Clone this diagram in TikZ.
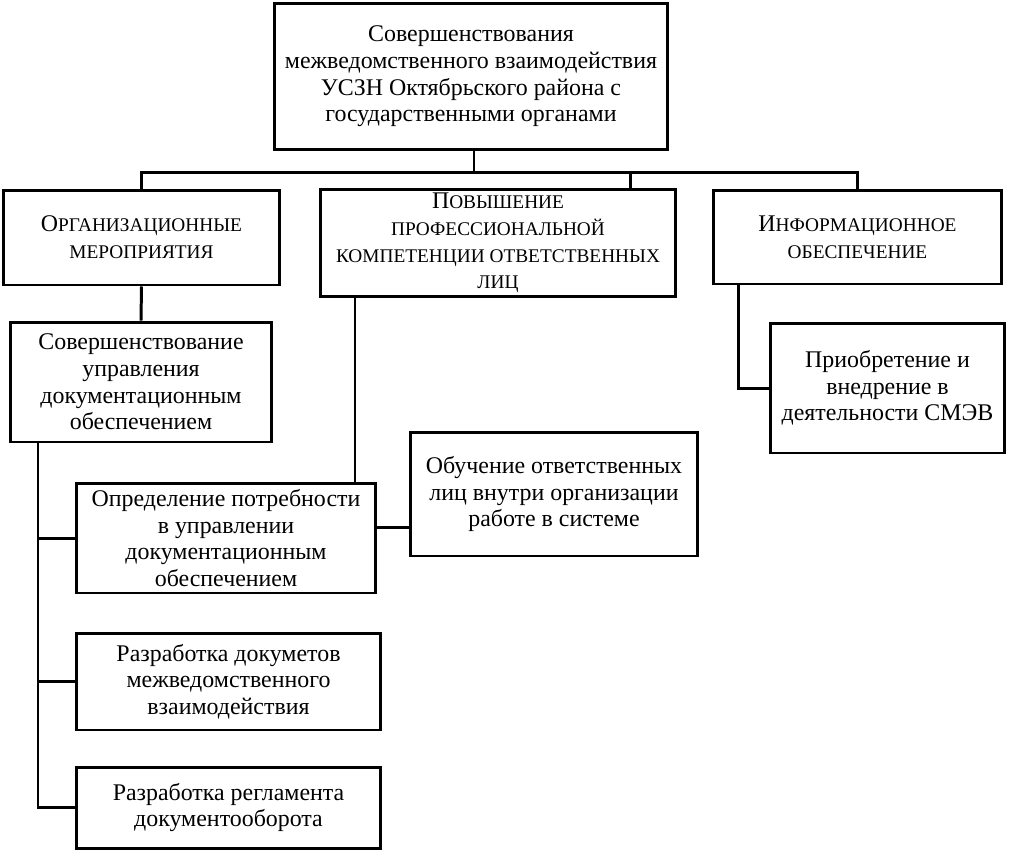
\documentclass[tikz,border=0pt]{standalone}
\usepackage{fontspec}
\setmainfont{Liberation Serif}
\usetikzlibrary{positioning,calc}
\newcommand{\smc}[2]{#1{\fontsize{11}{13}\selectfont #2}}
\tikzset{
  blk/.style={draw,line width=1.7pt,align=center,inner sep=2pt,
    font=\fontsize{13.6}{15.2}\selectfont},
  lnk/.style={line width=1.7pt}
}
\begin{document}
\begin{tikzpicture}[x=0.02cm,y=-0.02cm]
  \useasboundingbox (0,0) rectangle (1011,853);

  % main box
  \node[blk,minimum width=7.88cm,minimum height=2.94cm] (top) at (471,76.5)
    {Совершенствования\\межведомственного взаимодействия\\УСЗН Октябрьского района с\\государственными органами};

  % second row
  \node[blk,minimum width=5.54cm,minimum height=1.9cm] (org) at (141.5,237.5)
    {\smc{О}{РГАНИЗАЦИОННЫЕ}\\\smc{}{МЕРОПРИЯТИЯ}};
  \node[blk,minimum width=7.12cm,minimum height=2.12cm] (prof) at (498,243)
    {\smc{П}{ОВЫШЕНИЕ}\\\smc{}{ПРОФЕССИОНАЛЬНОЙ}\\\smc{}{КОМПЕТЕНЦИИ ОТВЕТСТВЕННЫХ}\\\smc{}{ЛИЦ}};
  \node[blk,minimum width=5.78cm,minimum height=1.88cm] (info) at (857.5,237)
    {\smc{И}{НФОРМАЦИОННОЕ}\\\smc{}{ОБЕСПЕЧЕНИЕ}};

  % lower boxes
  \node[blk,minimum width=5.24cm,minimum height=2.4cm] (sov) at (141,382)
    {Совершенствование\\управления\\документационным\\обеспечением};
  \node[blk,minimum width=4.7cm,minimum height=2.6cm] (prio) at (887.5,388)
    {Приобретение и\\внедрение в\\деятельности СМЭВ};
  \node[blk,minimum width=5.76cm,minimum height=2.48cm] (obuch) at (554,494)
    {Обучение ответственных\\лиц внутри организации\\работе в системе};
  \node[blk,minimum width=6cm,minimum height=2.2cm] (opred) at (226,538)
    {Определение потребности\\в управлении\\документационным\\обеспечением};
  \node[blk,minimum width=6.1cm,minimum height=1.94cm] (rdoc) at (228.5,681.5)
    {Разработка докуметов\\межведомственного\\взаимодействия};
  \node[blk,minimum width=6.1cm,minimum height=1.62cm] (rreg) at (228.5,807.5)
    {Разработка регламента\\документооборота};

  % connectors
  \coordinate (bus) at (474,172);
  \draw[lnk] (top.south -| bus) -- (bus);
  \draw[lnk] (org.north) |- (bus) -| (info.north);
  \draw[lnk] (bus -| prof.north east) ++(-47,0) coordinate (pj) -- (pj |- prof.north);
  \draw[lnk] (org.south) -- (sov.north);
  \coordinate (trunk) at (38,442);
  \draw[lnk] (trunk |- sov.south) |- (rreg.west);
  \draw[lnk] (trunk |- opred.west) -- (opred.west);
  \draw[lnk] (trunk |- rdoc.west) -- (rdoc.west);
  \coordinate (pv) at (355,296);
  \draw[lnk] (pv |- prof.south) -- (pv |- opred.north);
  \draw[lnk] (opred.east |- 0,527) -- (obuch.west |- 0,527);
  \coordinate (iv) at (738,284);
  \draw[lnk] (iv |- info.south) |- (prio.west);
\end{tikzpicture}
\end{document}
